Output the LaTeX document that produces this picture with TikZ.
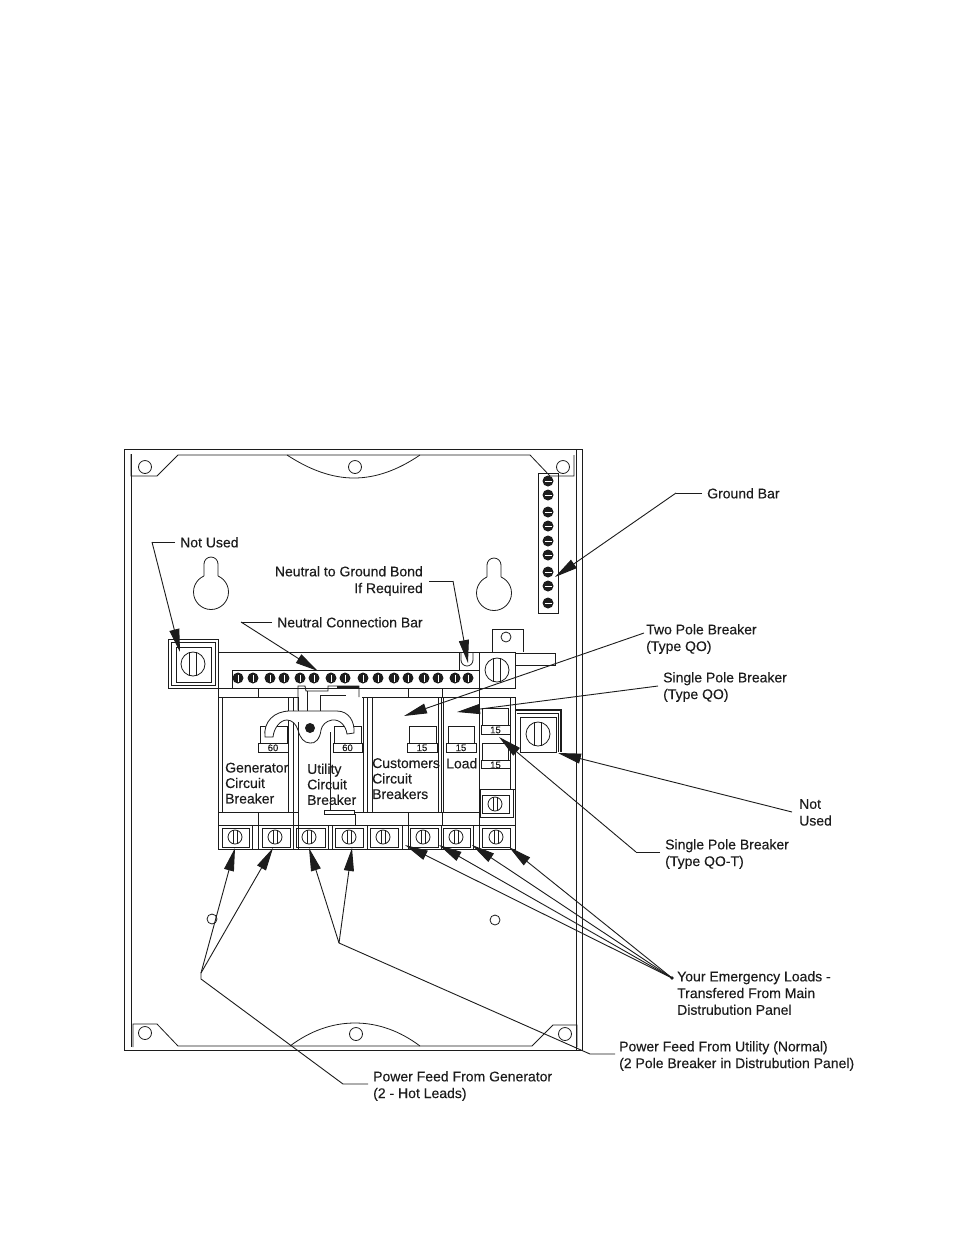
\documentclass[tikz,border=0pt]{standalone}
\usepackage{fontspec}
\setmainfont{Liberation Sans}
\newfontfamily\lblfont[FakeBold=0.2]{Liberation Sans}
\usetikzlibrary{arrows.meta}
\definecolor{ink}{HTML}{1C1C1C}
\tikzset{
  ln/.style={draw=ink,line width=0.8pt},
  hv/.style={draw=ink,line width=1.4pt},
  lead/.style={draw=ink,line width=0.9pt,-{Stealth[length=23pt,width=10pt,inset=0pt]}},
  plainlead/.style={draw=ink,line width=0.9pt},
  lbl/.style={font=\lblfont\fontsize{14}{16.7}\selectfont,text=ink,inner sep=0pt,align=left,anchor=north west},
  lblr/.style={font=\lblfont\fontsize{14}{16.7}\selectfont,text=ink,inner sep=0pt,align=right,anchor=north east},
  num/.style={font=\lblfont\fontsize{9.5}{10}\selectfont,text=ink,inner sep=0pt},
}
\newcommand{\bigscrew}[2]{%
  \draw[ln] (#1,#2) circle (12);
  \draw[ln] (#1-3.5,#2-12) -- (#1-3.5,#2+12) (#1+3.5,#2-12) -- (#1+3.5,#2+12);}
\newcommand{\smallscrew}[2]{%
  \draw[ln] (#1,#2) circle (7);
  \draw[ln] (#1-2,#2-7) -- (#1-2,#2+7) (#1+2,#2-7) -- (#1+2,#2+7);}
\newcommand{\barscrew}[2]{%
  \fill[ink] (#1,#2) circle (5.5);
  \draw[white,line width=0.4pt] (#1,#2-3.5) -- (#1,#2+3.5);}
\newcommand{\gndscrew}[2]{%
  \fill[ink] (#1,#2) circle (5.5);
  \draw[white,line width=0.4pt] (#1-3.5,#2) -- (#1+3.5,#2);}
\newcommand{\handle}[5]{% x0 x1 lx0 lx1 text
  \draw[ln] (#1,743) -- (#1,726) -- (#2,726) -- (#2,743);
  \draw[ln] (#3,743) rectangle (#4,752);
  \node[num] at ({(#3+#4)/2},747.8) {#5};}
\newcommand{\keyhole}[2]{% centre x, centre y of the round part
  \draw[ln] (#1,#2) circle (17.5);
  \fill[white] (#1-6.6,#2-20) rectangle (#1+6.6,#2-12);
  \draw[ln] (#1-7,#2-16) -- (#1-7,#2-28) arc (180:360:7) -- (#1+7,#2-16);}
\begin{document}
\begin{tikzpicture}[x=1pt,y=-1pt]
\useasboundingbox (0,0) rectangle (954,1235);
\fill[white] (0,0) rectangle (954,1235);

% enclosure
\draw[ln,line width=1pt] (124,449) rectangle (582,1050);
\draw[ln] (131,454) -- (131,1047);
\draw[ln,line width=1pt] (576,449) -- (576,1050);
% top flange
\draw[ln] (131,454) -- (131,476) -- (157,476) -- (178,455) -- (530,455) -- (550,476) -- (574,476) -- (574,455);
\draw[ln] (287,455) .. controls (310,470) and (332,478) .. (354,478) .. controls (376,478) and (398,470) .. (420,455);
\draw[ln] (145,467) circle (6.5) (355,467) circle (6.5) (563,467) circle (6.5);
% bottom flange
\draw[ln] (133,1047) -- (133,1024) -- (157,1024) -- (178,1046) -- (532,1046) -- (553,1025) -- (577,1025) -- (577,1047);
\draw[ln] (290,1046) .. controls (310,1031) and (332,1023) .. (355,1023) .. controls (378,1023) and (400,1031) .. (420,1046);
\draw[ln] (145,1033) circle (6.5) (356,1034) circle (6.5) (565,1034) circle (6.5);
\draw[ln] (212,919) circle (5) (495,920) circle (5);
% keyholes
\keyhole{211}{592}
\keyhole{494}{593}

% ground bar
\draw[ln] (538,473) rectangle (558,613);
\foreach \y in {481,495,512,526,541,555,572,586,603} {\gndscrew{548}{\y}}

% left not-used lug
\draw[ln] (168,639) rectangle (218,688);
\draw[ln] (171,642) rectangle (215,685);
\draw[ln] (176,647) rectangle (211,682);
\bigscrew{193}{664}

% neutral bar
\draw[ln] (218,652) -- (479,652);
\draw[ln] (232,688) -- (232,670) -- (479,670);
\draw[ln] (218,688) -- (515,688);
\foreach \x in {238,253,270,284,300,314,331,345,363,378,394,408,424,438,455,468} {\barscrew{\x}{678}}
% bond slot
\draw[ln] (459,652) -- (459,670);
\draw[ln] (461,652) -- (461,660) arc (180:0:6) -- (473,652);
% right lug and tab
\draw[ln] (492,652) -- (492,629) -- (523,629) -- (523,652);
\draw[ln] (506,637) circle (5);
\draw[ln] (515,653) -- (555,653) -- (555,665) -- (515,665);
\draw[ln,line width=1pt] (479,652) rectangle (515,688);
\bigscrew{497}{670}

% breaker frame
\draw[ln,line width=1pt] (218,688) -- (218,849) -- (515,849) -- (515,697);
\draw[ln] (218,697) -- (298,697);
\draw[ln] (362,697) -- (515,697);
\draw[ln] (218,812) -- (298,812) (355,812) -- (479,812);
\draw[ln] (218,825) -- (515,825);
\draw[ln] (258,688) -- (258,697) (258,812) -- (258,825);
\draw[ln] (408,688) -- (408,697) (408,812) -- (408,825);
\draw[ln] (442,688) -- (442,697) (442,812) -- (442,825);
\draw[ln] (222,697) -- (222,812);
\draw[ln] (288,697) -- (288,812);
\draw[ln] (293,697) -- (293,825);
\draw[ln] (298,697) -- (298,849);
\draw[ln] (363,697) -- (363,812);
\draw[ln] (367,697) -- (367,812);
\draw[ln] (372,697) -- (372,812);
\draw[ln] (438,697) -- (438,812);
\draw[ln] (441,697) -- (441,812);
\draw[ln] (443,697) -- (443,812);
\draw[ln] (479,688) -- (479,849);
\draw[ln] (510,697) -- (510,789);
\draw[ln] (479,789) -- (515,789);

% utility breaker details
\draw[ln] (298,710) -- (298,686) -- (305,686) -- (306,691) -- (328,691) -- (328,686) -- (359,686) -- (359,697);
\draw[hv] (337,687) -- (359,687);
\draw[ln] (307,691) -- (307,711);
\draw[ln] (320,711) -- (320,695) -- (346,695);
\draw[ln] (330,732) -- (330,810);
\draw[ln] (324,810) -- (324,814) -- (354,814) -- (354,810) -- (330,810) -- (324,810);
\draw[ln] (355,814) -- (355,825);

% breaker handles
\handle{260}{287}{258}{288}{60}
\handle{334}{361}{333}{362}{60}
\handle{409}{436}{407}{437}{15}
\handle{448}{474}{446}{476}{15}

% jumper
\draw[ln,fill=white] (265,737) .. controls (263,722) and (274,711) .. (290,711) -- (337,711)
  .. controls (349,711) and (355,722) .. (354,733)
  -- (347,734) .. controls (346,726) and (340,719) .. (332,720)
  .. controls (326,721) and (322,725) .. (321,730)
  .. controls (320,739) and (315,744) .. (310,743)
  .. controls (304,743) and (300,738) .. (298,730)
  .. controls (296,724) and (292,720) .. (287,720)
  .. controls (280,720) and (274,728) .. (273,737) -- cycle;
\fill[ink] (310,728) circle (5);
\draw[ln] (298,722) -- (298,745);

% T breaker
\draw[ln] (482,725) -- (482,708) -- (508,708) -- (508,725);
\draw[ln] (481,725) rectangle (510,734);
\node[num] at (495.5,730) {15};
\draw[ln] (482,760) -- (482,743) -- (508,743) -- (508,760);
\draw[ln] (481,760) rectangle (510,768.5);
\node[num] at (495.5,765) {15};
\draw[ln] (480,789) rectangle (513,817);
\draw[ln,line width=1pt] (482,795) rectangle (509,813);
\smallscrew{495}{804}

% right not-used lug
\draw[hv] (515,710) -- (561,710) -- (561,752);
\draw[ln] (517,713) -- (558,713) -- (558,752);
\draw[ln] (520,717) rectangle (556,752);
\bigscrew{538}{734}

% terminals
\foreach \a/\b/\c in {222/249/235,262/290/275,296/325/309,335/363/349,370/398/383,410/438/423,443/470/456,482/510/496}{
  \draw[ln] (\a,828) rectangle (\b,847);
  \smallscrew{\c}{837}
}
\foreach \x in {252,258,293,328,332,367,402,408,441,473,479} {\draw[ln] (\x,825) -- (\x,849);}

% labels inside
\node[lbl] (gen) at (225,762.5) {Generator\\[-1.2pt]Circuit\\[-1.2pt]Breaker};
\node[lbl] (util) at (307,763.5) {Utility\\[-1.2pt]Circuit\\[-1.2pt]Breaker};
\node[lbl] (cust) at (372,758) {Customers\\[-1.2pt]Circuit\\[-1.2pt]Breakers};
\node[lbl] (load) at (446,758) {Load};

% labels outside
\node[lbl] (notused) at (180,537) {Not Used};
\node[lblr] (bond) at (423,566) {Neutral to Ground Bond\\If Required};
\node[lbl] (nbar) at (277,617) {Neutral Connection Bar};
\node[lbl] (gbar) at (707,488) {Ground Bar};
\node[lbl] (twop) at (646,624) {Two Pole Breaker\\(Type QO)};
\node[lbl] (singq) at (663,672) {Single Pole Breaker\\(Type QO)};
\node[lbl] (nu2) at (799,799) {Not\\Used};
\node[lbl] (singt) at (665,839) {Single Pole Breaker\\(Type QO-T)};
\node[lbl] (emerg) at (677,971) {Your Emergency Loads -\\Transfered From Main\\Distrubution Panel};
\node[lbl] (putil) at (619,1041) {Power Feed From Utility (Normal)\\(2 Pole Breaker in Distrubution Panel)};
\node[lbl] (pgen) at (373,1071) {Power Feed From Generator\\(2 - Hot Leads)};

% connector coordinates
\coordinate (a1) at (175,542); \coordinate (a1k) at (152,542); \coordinate (a1t) at (180,652);
\coordinate (a2) at (272,622); \coordinate (a2k) at (241,622); \coordinate (a2t) at (318,671);
\coordinate (a3) at (429,581); \coordinate (a3k) at (453,581); \coordinate (a3t) at (468,663);
\coordinate (a4) at (702,493); \coordinate (a4k) at (676,493); \coordinate (a4t) at (555,577);
\coordinate (a5) at (644,633); \coordinate (a5t) at (404,716);
\coordinate (a6) at (658,686); \coordinate (a6t) at (457,712);
\coordinate (a7) at (792,812); \coordinate (a7t) at (558,753);
\coordinate (a8) at (660,852); \coordinate (a8k) at (636,852); \coordinate (a8t) at (499,737);
\coordinate (e) at (672,978);
\coordinate (e1) at (405,845); \coordinate (e2) at (439,845); \coordinate (e3) at (472,845); \coordinate (e4) at (509,847);
\coordinate (u) at (339,943); \coordinate (u1) at (309,848); \coordinate (u2) at (352,848);
\coordinate (uk) at (590,1054); \coordinate (ue) at (615,1054);
\coordinate (g) at (201,973); \coordinate (g0) at (201,979); \coordinate (g1) at (235,848); \coordinate (g2) at (273,848);
\coordinate (gk) at (343,1084); \coordinate (ge) at (368,1084);

\draw[plainlead] (a1) -- (a1k); \draw[lead] (a1k) -- (a1t);
\draw[plainlead] (a2) -- (a2k); \draw[lead] (a2k) -- (a2t);
\draw[plainlead] (a3) -- (a3k); \draw[lead] (a3k) -- (a3t);
\draw[plainlead] (a4) -- (a4k); \draw[lead] (a4k) -- (a4t);
\draw[lead] (a5) -- (a5t);
\draw[lead] (a6) -- (a6t);
\draw[lead] (a7) -- (a7t);
\draw[plainlead] (a8) -- (a8k); \draw[lead] (a8k) -- (a8t);
\foreach \t in {e1,e2,e3,e4} {\draw[lead] (e) -- (\t);}
\fill[ink] (e) circle (1.8);
\draw[lead] (u) -- (u1); \draw[lead] (u) -- (u2);
\draw[plainlead] (u) -- (uk) -- (ue);
\draw[lead] (g) -- (g1); \draw[lead] (g) -- (g2);
\draw[plainlead] (g) -- (g0) -- (gk) -- (ge);
\end{tikzpicture}
\end{document}
